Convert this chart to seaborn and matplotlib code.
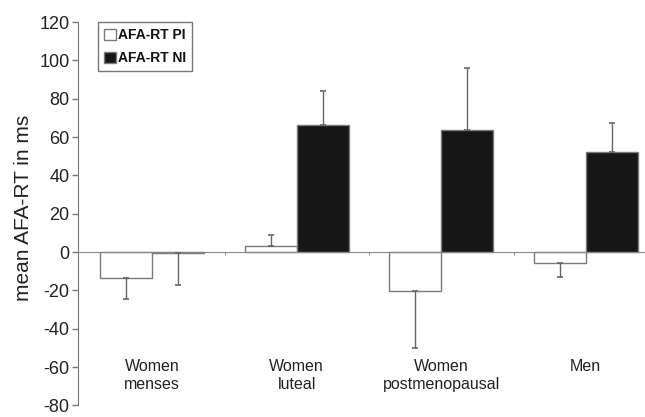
import pandas as pd
import numpy as np
import seaborn as sns
import matplotlib.pyplot as plt

groups = ["Women\nmenses", "Women\nluteal", "Women\npostmenopausal", "Men"]
conditions = ["AFA-RT PI", "AFA-RT NI"]
pi_mean = [-13.7, 3.4, -20.3, -5.5]
ni_mean = [-0.5, 66.5, 63.6, 52.3]
pi_err = [11.0, 5.3, 30.0, 7.7]
ni_err = [16.8, 17.7, 32.2, 15.2]
y_ticks = [-80, -60, -40, -20, 0, 20, 40, 60, 80, 100, 120]

df = pd.DataFrame({
    "group": groups * 2,
    "cond": [conditions[0]] * 4 + [conditions[1]] * 4,
    "value": pi_mean + ni_mean,
})

sns.set_style("white")
plt.rcParams["font.family"] = ["Liberation Sans", "DejaVu Sans"]
plt.rcParams["axes.unicode_minus"] = False

fig = plt.figure(figsize=(6.45, 4.17), dpi=100)
ax = fig.add_axes([0.1205, 0.028, 0.8795, 0.919])

sns.barplot(data=df, x="group", y="value", hue="cond", order=groups,
            hue_order=conditions, palette=["white", "#161616"],
            edgecolor="#7a7a7a", linewidth=1.0, width=0.72,
            errorbar=None, ax=ax)

# one-sided error bars, pointing away from zero
for cont, means, errs in zip(ax.containers, [pi_mean, ni_mean], [pi_err, ni_err]):
    xs = [p.get_x() + p.get_width() / 2 for p in cont.patches]
    lower = [e if m < 0 else 0 for m, e in zip(means, errs)]
    upper = [e if m >= 0 else 0 for m, e in zip(means, errs)]
    ax.errorbar(xs, means, yerr=[lower, upper], fmt="none", ecolor="#666666",
                elinewidth=1.0, capsize=2.5, capthick=1.2, zorder=3)

ax.set_ylim(-80, 120)
ax.set_xlim(-0.516, 3.41)
ax.set_yticks(y_ticks)
ax.tick_params(axis="y", labelsize=13, length=4, width=1, color="#777777",
               left=True, pad=2, labelcolor="#222222")

# category axis at zero with small boundary ticks, labels placed low
ax.spines["bottom"].set_position(("data", 0))
ax.spines["bottom"].set_color("#888888")
ax.spines["left"].set_color("#777777")
ax.spines["top"].set_visible(False)
ax.spines["right"].set_visible(False)
ax.set_xticks([0.5, 1.5, 2.5])
ax.set_xticklabels([])
ax.tick_params(axis="x", bottom=True, length=2, color="#888888")
for i, g in enumerate(groups):
    ax.text(i, -56, g, ha="center", va="top", fontsize=11.5, color="#222222")

ax.set_xlabel("")
ax.set_ylabel("mean AFA-RT in ms", fontsize=15, color="#222222")
ax.yaxis.set_label_coords(-0.078, 0.515)

leg = ax.legend(loc="upper left", bbox_to_anchor=(0.035, 1.0), frameon=True,
                fancybox=False, handlelength=0.85, handleheight=0.85,
                handletextpad=0.15, borderpad=0.45, labelspacing=0.62,
                borderaxespad=0, prop={"size": 10, "weight": "bold"})
leg.get_frame().set_edgecolor("#555555")
leg.get_frame().set_linewidth(1.0)
for t in leg.get_texts():
    t.set_color("#111111")

fig.savefig("out.png", dpi=100)
